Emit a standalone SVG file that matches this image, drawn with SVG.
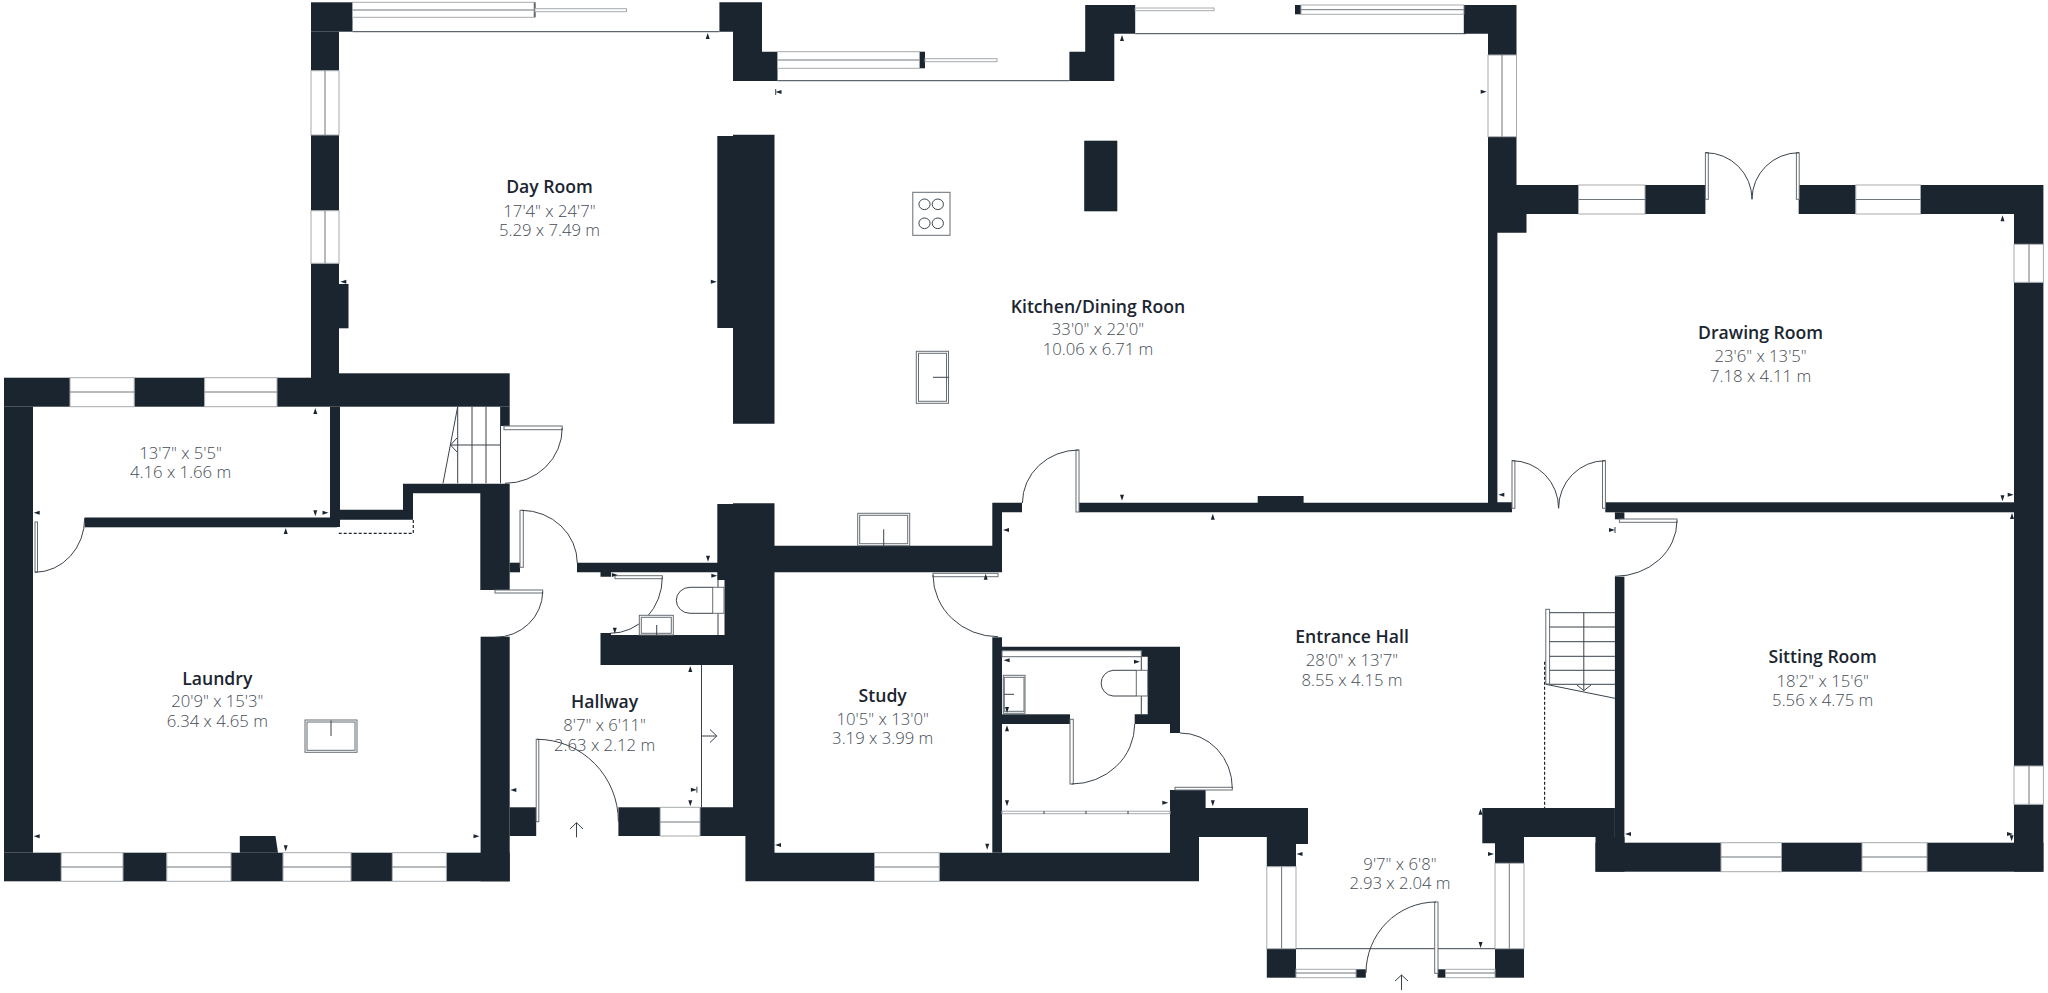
<svg xmlns="http://www.w3.org/2000/svg" width="2048" height="993" viewBox="0 0 2048 993">
<style>
.wall{fill:#1b2530}
.win{fill:#fff;stroke:#a6aaad;stroke-width:1}
.mid{fill:none;stroke:#6f767c;stroke-width:1}
.ln{fill:none;stroke:#3a434c;stroke-width:1}
.pan{fill:#fff;stroke:#666d73;stroke-width:1}
.dash{fill:none;stroke:#1b2530;stroke-width:1.2;stroke-dasharray:3 2}
.tk{fill:#1b2530}
text{text-anchor:middle;font-family:"Open Sans","Liberation Sans",sans-serif}
.t{font-size:17.6px;font-weight:600;fill:#1b2530}
.d{font-size:16.7px;font-weight:300;fill:#454d55}
</style>
<defs>
<polygon id="tu" class="tk" points="0,-3 2,3 -2,3"/>
<polygon id="td" class="tk" points="0,3 2,-3 -2,-3"/>
<polygon id="tl" class="tk" points="-3,0 3,-2 3,2"/>
<polygon id="tr" class="tk" points="3,0 -3,-2 -3,2"/>
</defs>
<rect width="2048" height="993" fill="#fff"/>
<g id="walls" class="wall">
<rect x="311" y="2.3" width="41.5" height="29.4"/>
<rect x="311" y="31.7" width="28" height="39"/>
<rect x="311" y="135" width="28" height="75.7"/>
<rect x="311" y="263.3" width="28" height="115"/>
<rect x="339" y="284" width="9.5" height="44.3"/>
<polygon points="719.4,2.3 762,2.3 762,51.7 777.5,51.7 777.5,81 733,81 733,31.7 719.4,31.7"/>
<polygon points="1085.2,5 1135.2,5 1135.2,33.7 1114.3,33.7 1114.3,81 1069.4,81 1069.4,51.7 1085.2,51.7"/>
<polygon points="1463.8,5 1516.5,5 1516.5,55 1488,55 1488,33.7 1463.8,33.7"/>
<polygon points="717.3,136 733,136 733,134.7 774.5,134.7 774.5,423.7 733,423.7 733,328 717.3,328"/>
<rect x="1084.2" y="140.7" width="33.1" height="70.6"/>
<polygon points="1488,136.7 1516.5,136.7 1516.5,185 1578.5,185 1578.5,214 1526.5,214 1526.5,232.7 1497.4,232.7 1497.4,502.3 1512,502.3 1512,512.3 1079,512.3 1079,502.7 1257.7,502.7 1257.7,496 1303.6,496 1303.6,502.7 1488,502.7"/>
<rect x="1645" y="185" width="60.4" height="29"/>
<rect x="1798.7" y="185" width="57.1" height="29"/>
<rect x="1920.5" y="185" width="122.9" height="29"/>
<rect x="2014" y="214" width="29.4" height="30.3"/>
<rect x="2014" y="282.3" width="29.4" height="483.7"/>
<rect x="2014" y="804.3" width="29.4" height="67.4"/>
<rect x="1605.3" y="502.3" width="408.7" height="10"/>
<rect x="1614.9" y="512.3" width="9.5" height="7"/>
<rect x="1614.9" y="576.7" width="9.5" height="266"/>
<polygon points="1482.3,808 1614.9,808 1614.9,837 1524,837 1524,863.3 1495,863.3 1495,843.3 1482.3,843.3"/>
<rect x="1495" y="948.7" width="29" height="29"/>
<rect x="1595.5" y="837" width="29" height="34.7"/>
<rect x="1595.5" y="842.7" width="125.5" height="29"/>
<rect x="1781.5" y="842.7" width="80.5" height="29"/>
<rect x="1927" y="842.7" width="116.4" height="29"/>
<rect x="1437.6" y="969.3" width="7.9" height="8.4"/>
<polygon points="1170,790 1205.6,790 1205.6,808 1308,808 1308,844 1296,844 1296,866.7 1266.8,866.7 1266.8,837 1199,837 1199,881.3 939.3,881.3 939.3,852.7 1170,852.7"/>
<rect x="1266.8" y="948.7" width="29.2" height="29"/>
<rect x="1356" y="969.3" width="9.8" height="8.4"/>
<polygon points="717.3,504 733,504 733,503.3 774.5,503.3 774.5,545.7 992.3,545.7 992.3,502.7 1022,502.7 1022,512.3 1002,512.3 1002,572.3 774.5,572.3 774.5,852.7 874.5,852.7 874.5,881.3 745.4,881.3 745.4,836 700,836 700,807.3 733,807.3 733,665 600.5,665 600.5,633 611,633 611,635 724.5,635 724.5,580 717.3,580 717.3,572.3 611,572.3 611,576.7 600.5,576.7 600.5,572.3 577,572.3 577,562.7 717.3,562.7"/>
<rect x="618.4" y="807.3" width="41.8" height="28.7"/>
<rect x="509.7" y="807.3" width="26.5" height="28.7"/>
<rect x="480.6" y="636.7" width="29.1" height="244.6"/>
<rect x="4" y="377.7" width="66" height="29"/>
<rect x="134.2" y="377.7" width="70.4" height="29"/>
<rect x="277" y="377.7" width="62" height="29"/>
<rect x="4" y="406.7" width="29" height="446"/>
<rect x="4" y="852.7" width="57.2" height="28.6"/>
<rect x="123" y="852.7" width="43.8" height="28.6"/>
<rect x="231" y="852.7" width="52" height="28.6"/>
<rect x="351" y="852.7" width="41.3" height="28.6"/>
<rect x="446.4" y="852.7" width="63.3" height="28.6"/>
<polygon points="239.8,836 275.5,836 278,852.7 239.8,852.7"/>
<rect x="339" y="373.3" width="170.7" height="33.4"/>
<rect x="500" y="406.7" width="9.7" height="19.3"/>
<rect x="330" y="406.7" width="10" height="120.3"/>
<rect x="84.7" y="517.5" width="252.3" height="9.8"/>
<polygon points="403,483.7 509.7,483.7 509.7,590 480.3,590 480.3,493.3 413,493.3 413,519.7 340,519.7 340,509.7 403,509.7"/>
<rect x="509.7" y="562.7" width="10.3" height="9.6"/>
<rect x="992.3" y="637.3" width="9.7" height="215.4"/>
<polygon points="1002,646.7 1180,646.7 1180,733 1170,733 1170,724 1134.7,724 1134.7,714.3 1147.7,714.3 1147.7,656.7 1141.3,656.7 1141.3,650.7 1002,650.7"/>
<rect x="1002" y="714.3" width="68" height="9.7"/>
<rect x="919.4" y="51.7" width="5.6" height="16.6"/>
<rect x="1295" y="5" width="6" height="9.3"/>
<rect x="534" y="2.3" width="1.5" height="15"/>
</g>
<g id="windows">
<rect class="win" x="311" y="70.7" width="28" height="64.3"/><path class="mid" d="M325,70.7V135"/>
<rect class="win" x="311" y="210.7" width="28" height="52.6"/><path class="mid" d="M325,210.7V263.3"/>
<rect class="win" x="70" y="377.7" width="64.2" height="29"/><path class="mid" d="M70,392H134.2"/>
<rect class="win" x="204.6" y="377.7" width="72.4" height="29"/><path class="mid" d="M204.6,392H277"/>
<rect class="win" x="61.2" y="852.7" width="61.8" height="28.6"/><path class="mid" d="M61.2,867H123"/>
<rect class="win" x="166.8" y="852.7" width="64.2" height="28.6"/><path class="mid" d="M166.8,867H231"/>
<rect class="win" x="283" y="852.7" width="68" height="28.6"/><path class="mid" d="M283,867H351"/>
<rect class="win" x="392.3" y="852.7" width="54.1" height="28.6"/><path class="mid" d="M392.3,867H446.4"/>
<rect class="win" x="660.2" y="807.3" width="39.8" height="28.7"/><path class="mid" d="M660.2,822H700"/>
<rect class="win" x="874.5" y="852.7" width="64.8" height="28.6"/><path class="mid" d="M874.5,867H939.3"/>
<rect class="win" x="1266.8" y="866.7" width="29.2" height="82"/><path class="mid" d="M1281.6,866.7V948.7"/>
<rect class="win" x="1495" y="863.3" width="29" height="85.4"/><path class="mid" d="M1509.3,863.3V948.7"/>
<rect class="win" x="1296" y="969.3" width="60" height="8.4"/><path class="mid" d="M1296,973H1356"/>
<rect class="win" x="1445.5" y="969.3" width="49.5" height="8.4"/><path class="mid" d="M1445.5,973H1495"/>
<rect class="win" x="1488" y="55" width="28.5" height="81.7"/><path class="mid" d="M1502,55V136.7"/>
<rect class="win" x="1578.5" y="185" width="66.5" height="29"/><path class="mid" d="M1578.5,199.5H1645"/>
<rect class="win" x="1855.8" y="185" width="64.7" height="29"/><path class="mid" d="M1855.8,199.5H1920.5"/>
<rect class="win" x="2014" y="244.3" width="29.4" height="38"/><path class="mid" d="M2029,244.3V282.3"/>
<rect class="win" x="2014" y="766" width="29.4" height="38.3"/><path class="mid" d="M2029,766V804.3"/>
<rect class="win" x="1721" y="842.7" width="60.5" height="29"/><path class="mid" d="M1721,857H1781.5"/>
<rect class="win" x="1862" y="842.7" width="65" height="29"/><path class="mid" d="M1862,857H1927"/>
<rect class="win" x="352.5" y="2.3" width="181.5" height="15"/><path class="mid" d="M352.5,10H534"/>
<rect class="win" x="535" y="8.7" width="91.5" height="3"/>
<rect class="win" x="777.5" y="51.7" width="141.9" height="16.6"/><path class="mid" d="M777.5,60H919.4"/>
<rect class="win" x="925" y="58.7" width="72" height="3"/>
<rect class="win" x="1135.2" y="8" width="78.8" height="2.7"/>
<rect class="win" x="1301" y="5" width="162.8" height="9.3"/><path class="mid" d="M1301,9.7H1463.8"/>
<path class="ln" d="M352.5,31.7H719.4M777.5,80.7H1069.4M1135.2,33.7H1466M1296,948.7H1495M701.5,665V807.3"/>
</g>
<g id="doors">
<rect class="pan" x="504" y="426" width="58.2" height="3.7"/><path class="ln" d="M562.2,428A57,55 0 0 1 505,483.3"/>
<rect class="pan" x="35" y="522" width="2.5" height="50"/><path class="ln" d="M35,572.3A50,54 0 0 0 84.7,518"/>
<rect class="pan" x="520" y="510.3" width="3.3" height="57"/><path class="ln" d="M521.7,510.3A56,53 0 0 1 577.3,563.3"/>
<rect class="pan" x="495" y="590" width="47.7" height="3"/><path class="ln" d="M542.7,591.7A47.7,46 0 0 1 495,637.3"/>
<rect class="pan" x="615" y="575.7" width="47.3" height="3"/><path class="ln" d="M662.3,577.3A52,56 0 0 1 610,633.3"/>
<rect class="pan" x="536.2" y="739.3" width="2.6" height="82.4"/><path class="ln" d="M537,739.3A81.4,82.4 0 0 1 618.4,821.7"/>
<rect class="pan" x="933" y="573.3" width="65" height="3.4"/><path class="ln" d="M933,575A65,62 0 0 0 998,636.7"/>
<rect class="pan" x="1070" y="719.3" width="3.3" height="64.7"/><path class="ln" d="M1071.7,784A63,60 0 0 0 1134.7,724"/>
<rect class="pan" x="1175" y="787.3" width="57.3" height="2.7"/><path class="ln" d="M1232.3,788.3A52,55 0 0 0 1180,733"/>
<rect class="pan" x="1076" y="450" width="3" height="62"/><path class="ln" d="M1078.6,450A56.2,53 0 0 0 1022.4,503"/>
<rect class="pan" x="1434.7" y="902" width="3.3" height="71.3"/><path class="ln" d="M1436,902A70,71 0 0 0 1366,973"/>
<rect class="pan" x="1705.4" y="152.7" width="2.9" height="46.6"/><rect class="pan" x="1796.4" y="152.7" width="2.8" height="46.6"/><path class="ln" d="M1705.4,152.7A46.6,46.6 0 0 1 1752,199.3A47,46.6 0 0 1 1799,152.7"/>
<rect class="pan" x="1512" y="460.7" width="2.9" height="47.6"/><rect class="pan" x="1602.5" y="460.7" width="2.9" height="47.6"/><path class="ln" d="M1512,460.7A46.6,47.6 0 0 1 1558.6,508.3A46.7,47.6 0 0 1 1605.3,460.7"/>
<rect class="pan" x="1619.4" y="519" width="57.6" height="3.3"/><path class="ln" d="M1677,520.7A62.1,55.6 0 0 1 1614.9,576.3"/>
</g>
<g id="stairs">
<path class="ln" d="M457.7,406.7V483.3M472,406.7V483.3M486,406.7V483.3M500.5,406.7V483.3M450.5,445H500.5M457.7,406.7L443,483.3M457,438L450.5,445L457,452"/>
<rect class="pan" x="1545.8" y="609.3" width="3.8" height="74.7"/>
<path class="ln" d="M1549.6,612.7H1614.9M1549.6,627H1614.9M1549.6,641.7H1614.9M1549.6,656.3H1614.9M1549.6,670.3H1614.9M1549.6,684.3H1614.9M1583.8,612.7V690.7M1545.8,684.3L1614.9,698.3M1577,685L1583.8,690.7L1591,685"/>
<path class="dash" d="M1544.6,661.7V808M338.7,533.3H413.3V519.7"/>
</g>
<g id="fixtures">
<rect class="pan" x="912.8" y="192.3" width="37.2" height="43"/>
<ellipse class="ln" cx="924.5" cy="204.3" rx="5.6" ry="5.3"/><ellipse class="ln" cx="937.8" cy="204.3" rx="5.6" ry="5.3"/><ellipse class="ln" cx="924.5" cy="223.3" rx="5.6" ry="5.3"/><ellipse class="ln" cx="937.8" cy="223.3" rx="5.6" ry="5.3"/>
<rect class="pan" x="916.3" y="351.3" width="32.2" height="52"/><rect class="pan" x="918.5" y="353.3" width="28" height="48"/><path class="ln" d="M933,377.3H948.5"/>
<rect class="pan" x="857.7" y="513.3" width="52" height="32.4"/><rect class="pan" x="859.7" y="515.3" width="48" height="28.4"/><path class="ln" d="M883.7,529.3V545.7"/>
<rect class="pan" x="305" y="720" width="52" height="32.3"/><rect class="pan" x="307" y="722" width="48" height="28.3"/><path class="ln" d="M331,720.5V736"/>
<path class="ln" d="M718,580V635"/><rect class="pan" x="712.7" y="587.3" width="11.3" height="26"/><path class="ln" d="M712.7,587.3H690A13.7,13 0 0 0 690,613.3H712.7"/>
<rect class="pan" x="639.3" y="615.3" width="34" height="19.7"/><rect class="pan" x="641.3" y="617.3" width="30" height="16"/><path class="ln" d="M656.7,625V635"/>
<path class="pan" d="M1002,650.7H1141.3V656.7H1002Z"/>
<path class="ln" d="M1141.3,656.7V714.3"/>
<rect class="pan" x="1136.3" y="670.3" width="11.4" height="25.7"/><path class="ln" d="M1136.3,670.3H1113A13,12.9 0 0 0 1113,696H1136.3"/>
<rect class="pan" x="1003.3" y="675.3" width="21.7" height="38"/><rect class="pan" x="1004.3" y="677.3" width="19.7" height="34"/><path class="ln" d="M1004.3,694.3H1014"/>
<rect class="win" x="1002" y="811.2" width="168" height="2.5"/>
<path class="ln" d="M1044,811V814M1086,811V814M1128,811V814"/>
</g>
<g id="arrows">
<path class="ln" d="M701.5,736H716.8M710,729.5L716.8,736L710,742.5M576.5,837.3V822.7M570,829L576.5,822.7L583,829M1401.5,990V975M1395,981L1401.5,975L1408,981"/>
</g>
<g id="ticks">
<path class="ln" d="M775.7,89V95M1615,527V533M696.9,786.7V792.7"/>
<use href="#tu" x="707.7" y="36"/><use href="#tl" x="778.5" y="92"/><use href="#tl" x="343.3" y="281.7"/><use href="#tr" x="713.8" y="281.7"/><use href="#tu" x="315.3" y="411"/>
<use href="#tu" x="1122" y="38"/><use href="#tr" x="1483.7" y="91.7"/><use href="#td" x="1122" y="497.7"/><use href="#tu" x="1212.8" y="516.7"/>
<use href="#tu" x="2002.5" y="218.3"/><use href="#tl" x="1501.3" y="494.7"/><use href="#td" x="2002.5" y="498.3"/><use href="#tr" x="2010.7" y="494.7"/><use href="#tu" x="2012" y="516"/><use href="#tr" x="1612" y="530"/>
<use href="#tl" x="36.7" y="512.7"/><use href="#td" x="315.3" y="513.3"/><use href="#tr" x="325.5" y="512.7"/><use href="#tu" x="285.7" y="531"/><use href="#td" x="708" y="558.7"/><use href="#tr" x="714.3" y="575.7"/><use href="#tr" x="614.8" y="575"/><use href="#td" x="614.8" y="630.7"/><use href="#tu" x="690.3" y="669"/><use href="#tl" x="513.3" y="790"/><use href="#tr" x="693.9" y="789.7"/><use href="#td" x="690.3" y="803.3"/><use href="#tl" x="36.7" y="836.3"/><use href="#tr" x="476.5" y="836.3"/><use href="#td" x="285.7" y="848.3"/>
<use href="#tu" x="985.7" y="576.7"/><use href="#tl" x="1006" y="530"/><use href="#tl" x="778" y="845"/><use href="#td" x="987.2" y="846.7"/><use href="#tl" x="1006.6" y="660.3"/><use href="#tr" x="1137" y="661.7"/><use href="#td" x="1007" y="710"/><use href="#tu" x="1007" y="728.3"/><use href="#td" x="1007" y="803.3"/><use href="#tr" x="1165.3" y="802.7"/><use href="#td" x="1212.8" y="803.3"/><use href="#tl" x="1299.5" y="854"/><use href="#td" x="1480.6" y="945"/><use href="#tu" x="1480.5" y="811.7"/><use href="#tr" x="1491" y="854"/><use href="#tl" x="1628" y="834"/><use href="#tr" x="2010" y="834"/><use href="#td" x="2011.6" y="838.3"/>
</g>
<g id="labels">
<text class="t" x="549.5" y="193">Day Room</text><text class="d" x="549.5" y="216.5">17'4" x 24'7"</text><text class="d" x="549.5" y="236">5.29 x 7.49 m</text>
<text class="t" x="1098" y="312.5">Kitchen/Dining Roon</text><text class="d" x="1098" y="335">33'0" x 22'0"</text><text class="d" x="1098" y="355">10.06 x 6.71 m</text>
<text class="d" x="180.6" y="459">13'7" x 5'5"</text><text class="d" x="180.6" y="478">4.16 x 1.66 m</text>
<text class="t" x="217.3" y="684.5">Laundry</text><text class="d" x="217.3" y="707">20'9" x 15'3"</text><text class="d" x="217.3" y="727">6.34 x 4.65 m</text>
<text class="t" x="604.6" y="708">Hallway</text><text class="d" x="604.6" y="731">8'7" x 6'11"</text><text class="d" x="604.6" y="751">2.63 x 2.12 m</text>
<text class="t" x="882.7" y="701.5">Study</text><text class="d" x="882.7" y="724.5">10'5" x 13'0"</text><text class="d" x="882.7" y="744">3.19 x 3.99 m</text>
<text class="t" x="1352" y="642.5">Entrance Hall</text><text class="d" x="1352" y="666">28'0" x 13'7"</text><text class="d" x="1352" y="685.5">8.55 x 4.15 m</text>
<text class="d" x="1400" y="869.5">9'7" x 6'8"</text><text class="d" x="1400" y="889">2.93 x 2.04 m</text>
<text class="t" x="1760.6" y="339">Drawing Room</text><text class="d" x="1760.6" y="362">23'6" x 13'5"</text><text class="d" x="1760.6" y="381.5">7.18 x 4.11 m</text>
<text class="t" x="1822.7" y="663">Sitting Room</text><text class="d" x="1822.7" y="686.5">18'2" x 15'6"</text><text class="d" x="1822.7" y="706">5.56 x 4.75 m</text>
</g>
</svg>
